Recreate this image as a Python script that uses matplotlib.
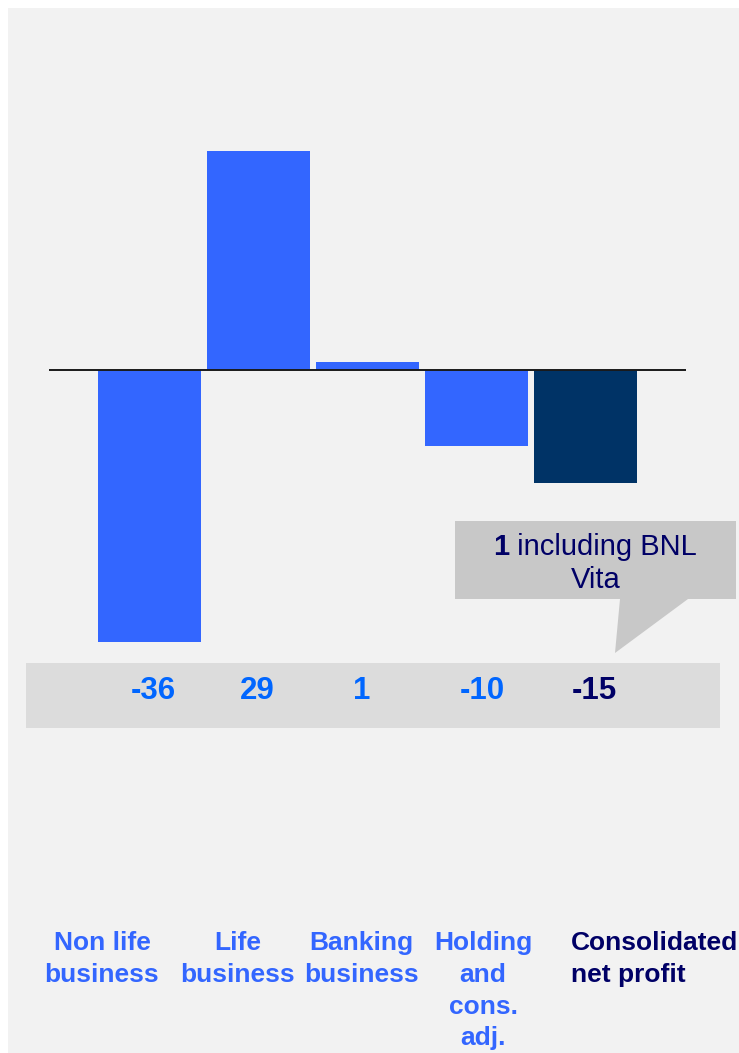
import matplotlib
matplotlib.use("Agg")
import matplotlib.pyplot as plt
from matplotlib.patches import Rectangle, Polygon

# Contribution to consolidated net profit by business segment
categories = ["Non life\nbusiness", "Life\nbusiness", "Banking\nbusiness",
              "Holding\nand\ncons.\nadj.", "Consolidated\nnet profit"]
values = [-36, 29, 1, -10, -15]
value_labels = ["-36", "29", "1", "-10", "-15"]

W, H = 739, 1053
DPI = 100

BLUE = "#3366ff"
NAVY_BAR = "#003366"
NAVY_TEXT = "#000066"
VALUE_BLUE = "#0066ff"
PANEL = "#f2f2f2"
STRIP = "#dcdcdc"
CALLOUT = "#c8c8c8"
FONT = "Liberation Sans"

bar_colors = [BLUE, BLUE, BLUE, BLUE, NAVY_BAR]
value_colors = [VALUE_BLUE, VALUE_BLUE, VALUE_BLUE, VALUE_BLUE, NAVY_TEXT]
cat_colors = [BLUE, BLUE, BLUE, BLUE, NAVY_TEXT]


def fx(px):
    return px / W


def fy(py):
    return 1 - py / H


fig = plt.figure(figsize=(W / DPI, H / DPI), dpi=DPI, facecolor="white")

ax = fig.add_axes([0, 0, 1, 1])
ax.set_facecolor("none")
ax.axis("off")

# light panel behind the chart
ax.add_patch(Rectangle((fx(8), fy(H)), fx(W) - fx(8), fy(8) - fy(H),
                       transform=fig.transFigure, facecolor=PANEL,
                       edgecolor="none", zorder=0))

# scale: bar pitch 109 px starting at 149.5 px; 7.56 px per unit, zero at 370 px
pitch, x0 = 109.0, 149.5
ppu, y_zero = 7.56, 370.0
ax.set_xlim(-x0 / pitch, (W - x0) / pitch)
ax.set_ylim((y_zero - H) / ppu, y_zero / ppu)

xs = list(range(len(values)))
ax.bar(xs, values, width=103 / pitch, color=bar_colors, zorder=3)

# zero line
ax.plot([(49 - x0) / pitch, (686 - x0) / pitch], [0, 0],
        color="#1a1a1a", lw=1.4, zorder=4, solid_capstyle="butt")

# value strip
ax.add_patch(Rectangle((fx(26), fy(728)), fx(720) - fx(26), fy(663) - fy(728),
                       transform=fig.transFigure, facecolor=STRIP,
                       edgecolor="none", zorder=1))
value_nudge_px = [4, -1, -6, 6, 9]
for x, lab, c, dx in zip(xs, value_labels, value_colors, value_nudge_px):
    ax.text(x + dx / pitch, (y_zero - 691) / ppu, lab, ha="center",
            va="center", fontsize=22.5, fontweight="bold", color=c,
            family=FONT, zorder=5)

# callout with pointer
pts = [(455, 521), (736, 521), (736, 599), (688, 599), (615, 653),
       (620, 599), (455, 599)]
ax.add_patch(Polygon([(fx(a), fy(b)) for a, b in pts], closed=True,
                     transform=fig.transFigure, facecolor=CALLOUT,
                     edgecolor="none", zorder=2))
t1 = ax.text(fx(493), fy(547), "1", transform=fig.transFigure, ha="left",
             va="center", fontsize=21, fontweight="bold", color=NAVY_TEXT,
             family=FONT, zorder=5)
ax.annotate(" including BNL", xy=(1, 0.5), xycoords=t1, ha="left",
            va="center", fontsize=21, color=NAVY_TEXT, family=FONT, zorder=5)
ax.text(fx(596), fy(580), "Vita", transform=fig.transFigure, ha="center",
        va="center", fontsize=21, color=NAVY_TEXT, family=FONT, zorder=5)

# category labels
label_x = [102, 238, 361.5, 483, 571]
label_ha = ["center", "center", "center", "center", "left"]
for cat, lx, ha, c in zip(categories, label_x, label_ha, cat_colors):
    ax.text(fx(lx), fy(931), cat, transform=fig.transFigure, ha=ha,
            va="top", multialignment=ha, fontsize=19, fontweight="bold",
            color=c, family=FONT, linespacing=1.41, zorder=5)

fig.savefig("out.png", dpi=DPI, facecolor="white")
